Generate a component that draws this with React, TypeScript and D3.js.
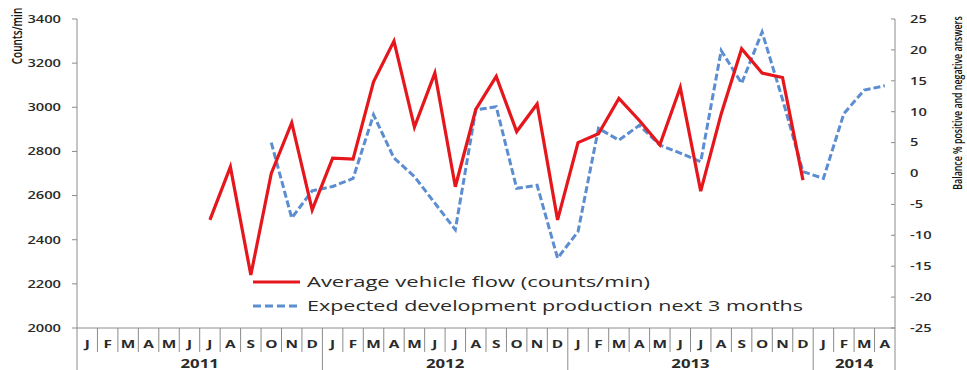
import React from "react";
import * as d3 from "d3";

const monthLetters = ["J","F","M","A","M","J","J","A","S","O","N","D"];
const years = ["2011","2012","2013","2014"];
const yearMonths = [12, 12, 12, 4];

// Average vehicle flow (counts/min), Jul 2011 .. Dec 2013
const flowStart = 6;
const flow = [2490, 2730, 2240, 2700, 2930, 2535,
  2770, 2765, 3115, 3300, 2910, 3155, 2640, 2990, 3140, 2890, 3015, 2490,
  2840, 2880, 3040, 2940, 2830, 3090, 2620, 2970, 3265, 3155, 3135, 2670];

// Expected development production next 3 months (balance %), Oct 2011 .. Apr 2014
const expStart = 9;
const expected = [5, -7.2, -2.8,
  -2.1, -0.8, 9.5, 2.5, -0.5, -4.8, -9.1, 10.3, 10.8, -2.4, -1.9, -13.7,
  -9.4, 7.3, 5.4, 7.8, 4.6, 3.3, 1.9, 19.9, 14.6, 22.9, 12, 0.3,
  -0.8, 9.7, 13.5, 14.2];

const leftTicks = [2000, 2200, 2400, 2600, 2800, 3000, 3200, 3400];
const rightTicks = [-25, -20, -15, -10, -5, 0, 5, 10, 15, 20, 25];

const legendLabels = ["Average vehicle flow (counts/min)", "Expected development production next 3 months"];

const W = 967, H = 370;
const X0 = 77, X1 = 895, YT = 19, YB = 328;
const RED = "#E5161C";
const BLUE = "#5B8DD0";
const AX = "#8C8C8C";
const TXT = "#2A2A2A";
const SX = 1.4;
const FONT = "'Open Sans', sans-serif";

export default function App() {
  const nMonths = d3.sum(yearMonths);
  const x = d3.scaleBand<number>().domain(d3.range(nMonths)).range([X0, X1]).padding(0);
  const bw = x.bandwidth();
  const cx = (i: number) => (x(i) as number) + bw / 2;
  const yL = d3.scaleLinear().domain([2000, 3400]).range([YB, YT]);
  const yR = d3.scaleLinear().domain([-25, 25]).range([YB, YT]);

  const flowLine = d3.line<number>().x((_, i) => cx(flowStart + i)).y(d => yL(d));
  const expLine = d3.line<number>().x((_, i) => cx(expStart + i)).y(d => yR(d));

  const monthIdx = d3.range(nMonths);
  let acc = 0;
  const yearSpans = years.map((y, k) => {
    const s = acc; acc += yearMonths[k];
    return { label: y, start: s, end: acc };
  });

  return (
    <svg width={W} height={H} style={{ position: "absolute", left: 0, top: 0, background: "#fff" }} fontFamily={FONT}>
      {/* axes */}
      <line x1={X0} x2={X0} y1={YT} y2={H} stroke={AX} strokeWidth={1} />
      <line x1={X1} x2={X1} y1={YT} y2={H} stroke={AX} strokeWidth={1} />
      <line x1={X0} x2={X1} y1={YB} y2={YB} stroke={AX} strokeWidth={1} />
      {leftTicks.map(t => (
        <g key={"l" + t}>
          <line x1={X0 - 5} x2={X0} y1={yL(t)} y2={yL(t)} stroke={AX} />
          <text transform={`translate(61,${yL(t) + 3.8}) scale(${SX},1)`} textAnchor="end" fontSize={10.5} fontWeight={600} fill={TXT}>{t}</text>
        </g>
      ))}
      {rightTicks.map(t => (
        <g key={"r" + t}>
          <line x1={X1 - 4} x2={X1} y1={yR(t)} y2={yR(t)} stroke={AX} />
          <text transform={`translate(910,${yR(t) + 3.8}) scale(${SX},1)`} textAnchor="start" fontSize={10.5} fontWeight={600} fill={TXT}>{t}</text>
        </g>
      ))}
      {/* category separators */}
      {monthIdx.map(i => {
        const isYear = yearSpans.some(s => s.start === i);
        if (i === 0) return null;
        return <line key={"s" + i} x1={x(i)} x2={x(i)} y1={YB} y2={isYear ? H : 352} stroke={AX} strokeWidth={1} />;
      })}
      {monthIdx.map(i => (
        <text key={"m" + i} transform={`translate(${cx(i)},348) scale(${SX},1)`} textAnchor="middle" fontSize={11} fontWeight={700} fill={TXT}>{monthLetters[i % 12]}</text>
      ))}
      {yearSpans.map(s => (
        <text key={s.label} transform={`translate(${(cx(s.start) + cx(s.end - 1)) / 2},368) scale(${SX},1)`} textAnchor="middle" fontSize={12} fontWeight={700} fill={TXT}>{s.label}</text>
      ))}
      {/* axis titles */}
      <text transform={`translate(22,36) scale(${SX},1) rotate(-90)`} textAnchor="middle" fontSize={10} fontWeight={600} fill="#111">Counts/min</text>
      <text transform={`translate(962,103) scale(${SX},1) rotate(-90)`} textAnchor="middle" fontSize={8.8} fontWeight={600} fill="#111">Balance  % positive and negative answers</text>
      {/* series */}
      <path d={expLine(expected) || ""} fill="none" stroke={BLUE} strokeWidth={3} strokeDasharray="7,3" />
      <path d={flowLine(flow) || ""} fill="none" stroke={RED} strokeWidth={3.2} strokeLinejoin="miter" />
      {/* legend */}
      <line x1={253} x2={300} y1={282} y2={282} stroke={RED} strokeWidth={3} />
      <text x={307} y={287} fontSize={14} fill={TXT} textLength={343} lengthAdjust="spacingAndGlyphs">{legendLabels[0]}</text>
      <line x1={253} x2={300} y1={306} y2={306} stroke={BLUE} strokeWidth={3} strokeDasharray="8,4" />
      <text x={307} y={311} fontSize={14} fill={TXT} textLength={496} lengthAdjust="spacingAndGlyphs">{legendLabels[1]}</text>
    </svg>
  );
}
